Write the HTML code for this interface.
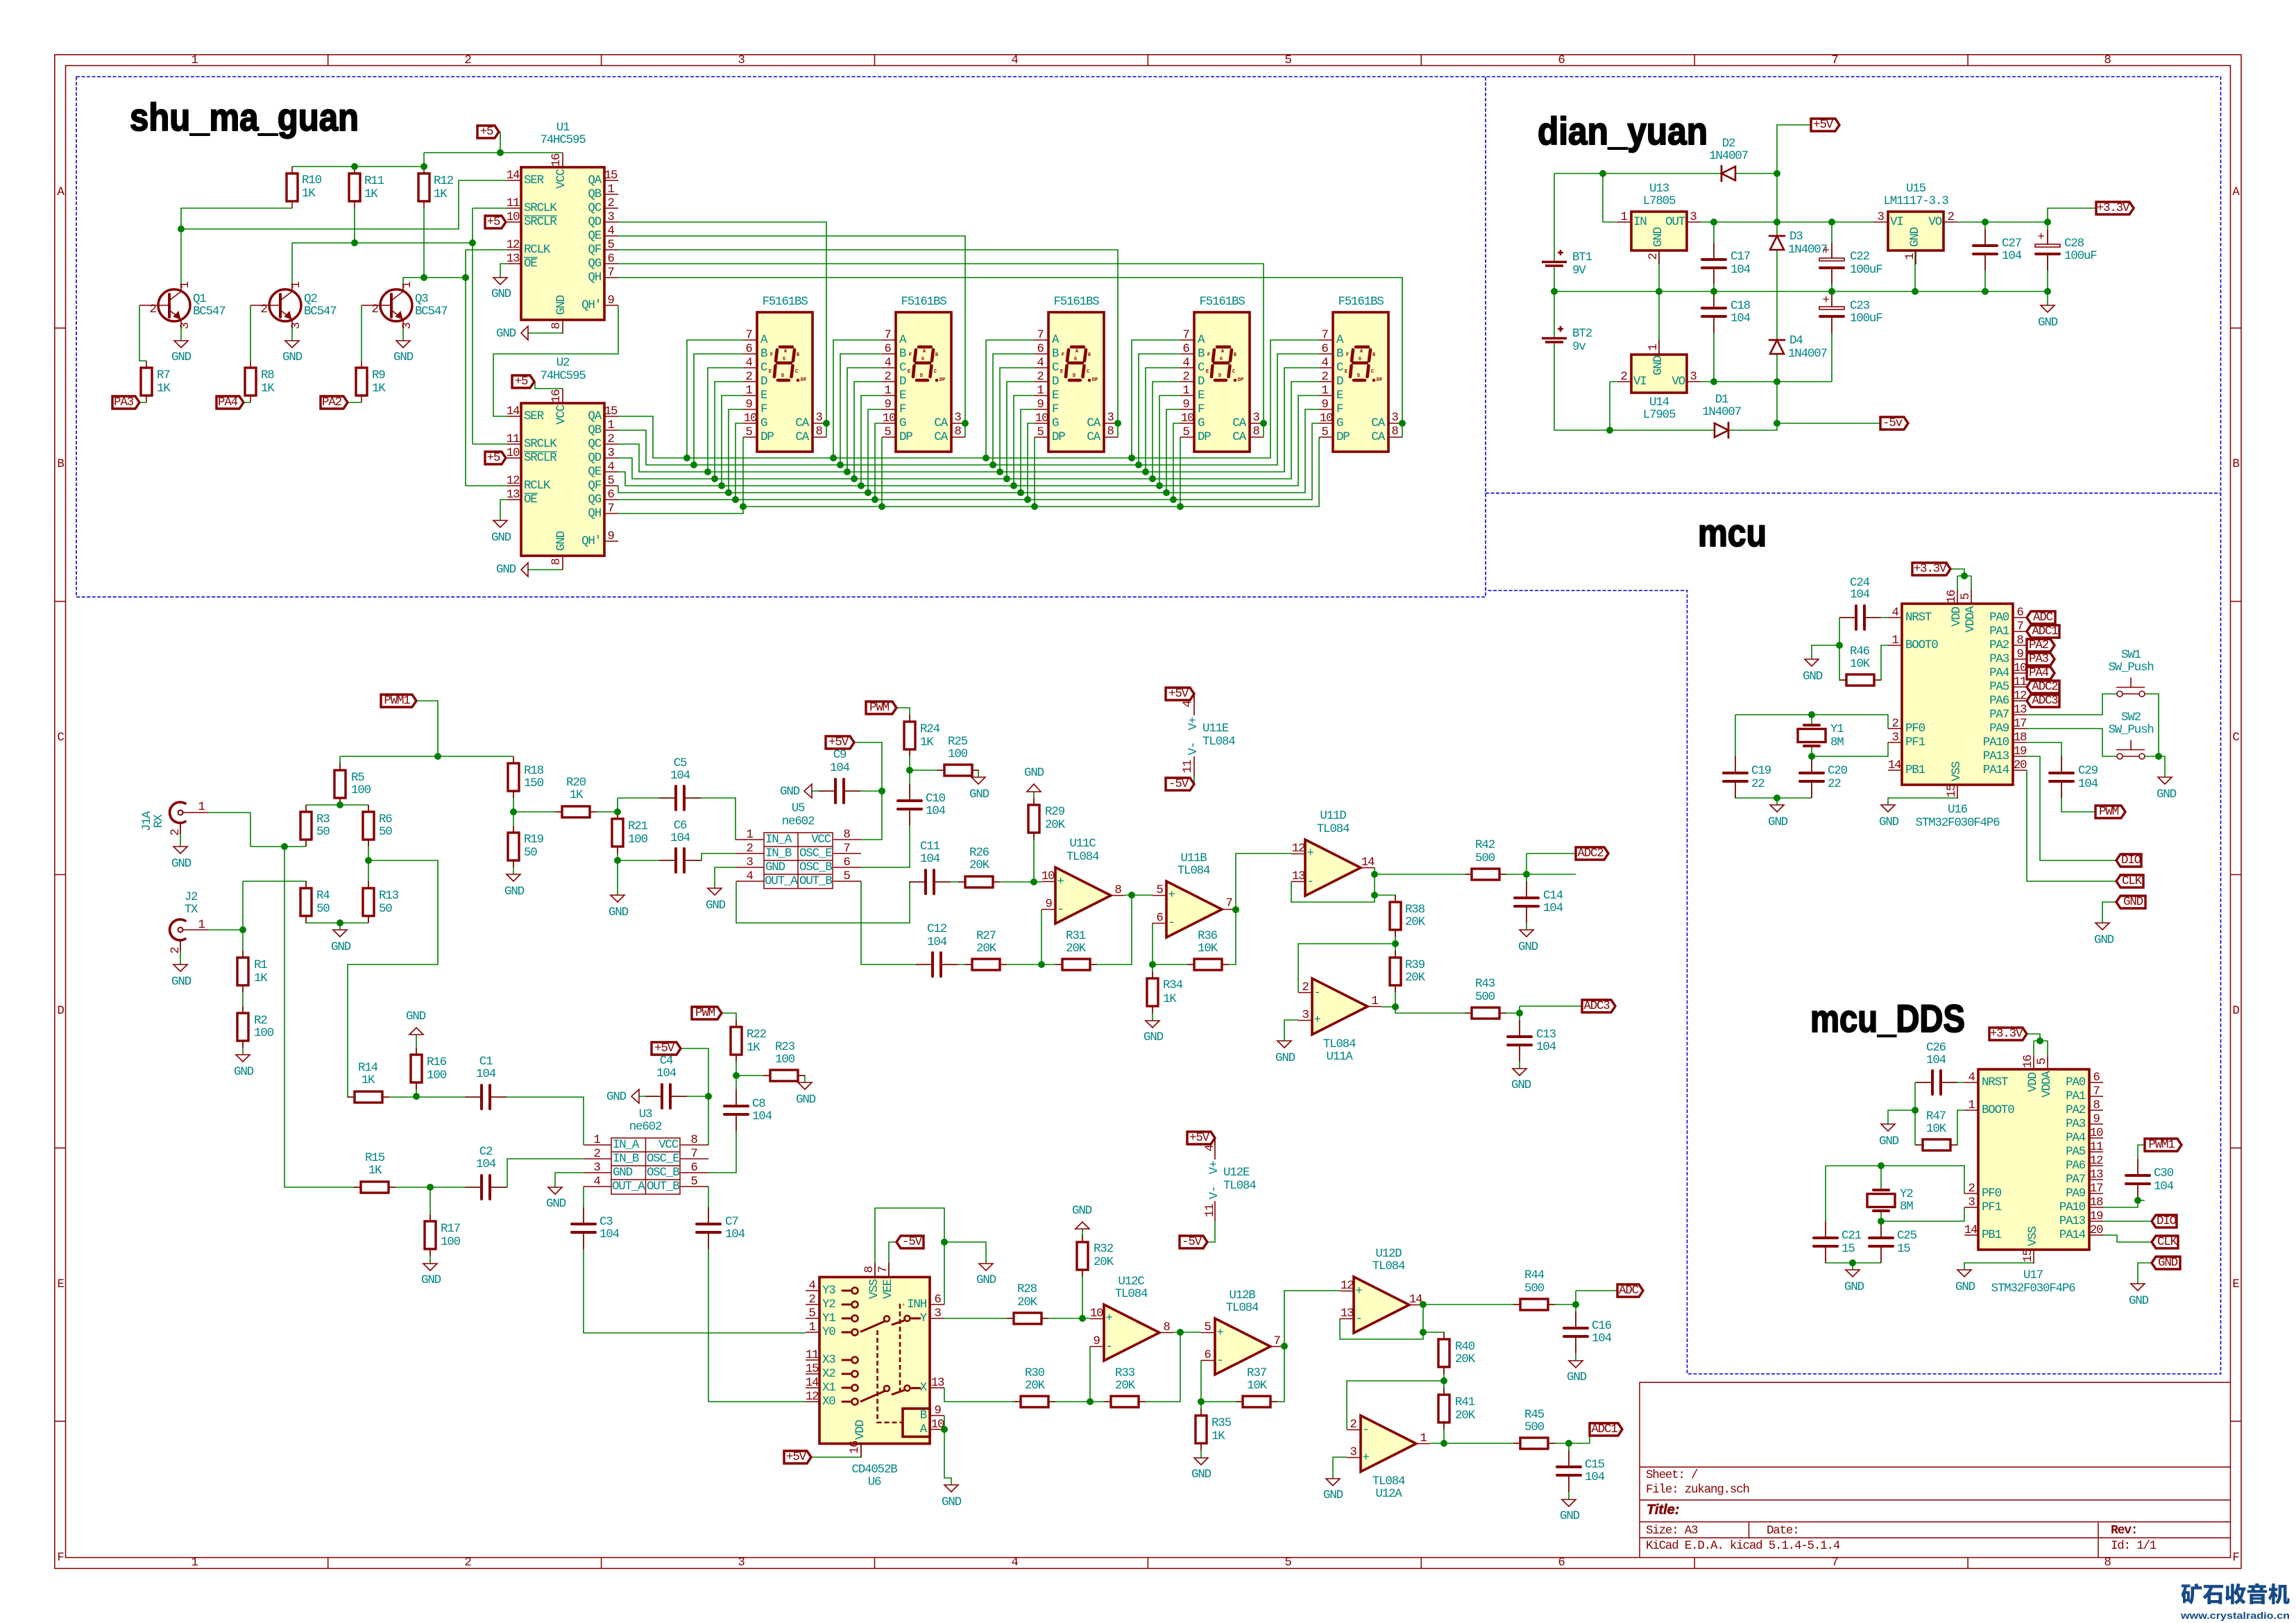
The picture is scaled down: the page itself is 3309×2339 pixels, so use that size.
<!DOCTYPE html>
<html><head><meta charset="utf-8"><title>zukang.sch</title>
<style>
html,body{margin:0;padding:0;background:#fff}
svg{display:block}
svg text{font:17.5px "Liberation Mono",monospace;letter-spacing:-1.2px;dominant-baseline:central}
.t{fill:#008484;text-anchor:middle}
.ts{fill:#008484;text-anchor:start}
.te{fill:#008484;text-anchor:end}
.n{fill:#840000;text-anchor:middle}
.ns{fill:#840000;text-anchor:start}
.w{fill:none;stroke:#008000;stroke-width:1.6}
.p{fill:none;stroke:#840000;stroke-width:1.6}
.f{fill:none;stroke:#840000;stroke-width:1.5}
.d{fill:none;stroke:#0000d8;stroke-width:1.6;stroke-dasharray:5 2.5}
.c{fill:#ffffc2;stroke:#840000;stroke-width:3.6}
.r{fill:#fff;stroke:#840000;stroke-width:3.4}
.k{fill:none;stroke:#840000;stroke-width:4;stroke-linecap:round}
.l{fill:#fff;stroke:#840000;stroke-width:3.4}
.j{fill:none;stroke:#008000;stroke-width:10;stroke-linecap:round}
.ov{fill:none;stroke:#008484;stroke-width:1.3}
svg text.h{font:bold 56px "Liberation Sans",sans-serif;letter-spacing:0;fill:#000;stroke:#000;stroke-width:2;stroke-linejoin:round;text-anchor:start;dominant-baseline:alphabetic}
svg text.b{font:bold italic 20px "Liberation Sans",sans-serif;letter-spacing:0;fill:#840000;stroke:#840000;stroke-width:.6;text-anchor:start}
svg text.rv{font:bold 18px "Liberation Mono",monospace;fill:#840000;text-anchor:start}
svg text.x{font-size:7px;letter-spacing:0;font-weight:bold;fill:#840000}
svg text.cj{font:900 31px "Noto Sans CJK SC",sans-serif;letter-spacing:0;fill:#164a86;text-anchor:start;dominant-baseline:alphabetic}
svg text.ur{font:bold 14px "Liberation Sans",sans-serif;letter-spacing:0;fill:#164a86;text-anchor:start;dominant-baseline:alphabetic}
</style></head><body>
<svg xmlns="http://www.w3.org/2000/svg" width="3309" height="2339" viewBox="0 0 3309 2339">
<defs>
<g id="rv"><path class="p" d="M0 -30V-20M0 20V30"/><rect class="r" x="-8" y="-20" width="16" height="40"/></g>
<g id="rh"><path class="p" d="M-30 0H-20M20 0H30"/><rect class="r" x="-20" y="-8" width="40" height="16"/></g>
<g id="cv"><rect x="-19" y="-5" width="38" height="10" fill="#fff"/><path class="p" d="M0 -30V-6M0 6V30"/><path class="k" d="M-17 -6H17M-17 6H17"/></g>
<g id="ch"><rect x="-5" y="-19" width="10" height="38" fill="#fff"/><path class="p" d="M-30 0H-6M6 0H30"/><path class="k" d="M-6 -17V17M6 -17V17"/></g>
<g id="cp"><rect x="-19" y="-5" width="38" height="10" fill="#fff"/><path class="p" d="M0 -30V-6M0 6V30"/><rect x="-18" y="-8" width="36" height="4" fill="#fff" stroke="#840000" stroke-width="1.6"/><path class="k" d="M-17 6H17"/></g>
<g id="xt"><rect x="-14" y="-15" width="28" height="30" fill="#fff"/><rect class="r" x="-20" y="-9.5" width="40" height="19"/><path class="k" d="M-11 -15H11M-11 15H11"/></g>
<g id="bt"><rect x="-19" y="-3" width="38" height="8" fill="#fff"/><path class="k" style="stroke-width:3.4;stroke-linecap:butt" d="M-18 -2.5H18M-13 3H13"/><path class="p" style="stroke-width:2.6" d="M5 -16H13M9 -20V-12"/></g>
<g id="dv"><path class="r" style="stroke-width:2.6" d="M-10 10H10L0 -10Z"/><path class="k" style="stroke-width:2.8" d="M-11 -10H11"/></g>
<g id="qb"><circle cx="0" cy="0" r="23" fill="#fff" stroke="#840000" stroke-width="3.4"/><path class="p" d="M-50 0H-7M-7 -7L10 -20V-30M-7 7L10 20V31"/><path class="k" d="M-7 -16V17"/><path d="M8 19L0 16L6 10Z" fill="#840000" stroke="#840000" stroke-width="2"/></g>
<g id="ic"><path class="p" d="M-20 19H0M-20 59H0M-20 79H0M-20 119H0M-20 139H0M120 19H140M120 39H140M120 59H140M120 79H140M120 99H140M120 119H140M120 139H140M120 159H140M120 199H140M60 -21V0M60 220V240"/><rect class="c" x="0" y="0" width="120" height="220"/><path class="ov" d="M4 70H52M4 130H24"/></g>
<g id="dsp"><path class="p" d="M-20 40H0M-20 60H0M-20 80H0M-20 100H0M-20 120H0M-20 140H0M-20 160H0M-20 180H0M80 160H100M80 180H100"/><rect class="c" y="0" width="80" height="201"/><path class="k" style="stroke-width:4.6" d="M33 50H51M29 73H49M30 98H46M29 54L27 70M54 54L52 70M26.500 77L25 93M51.500 77L49.500 93"/><circle cx="59" cy="98" r="2.300" fill="#840000"/></g>
<g id="op"><path class="p" d="M-20 20.500H0M-20 60.500H0M78 40.500H100"/><path class="c" d="M0 0V81L80 40.500Z"/></g>
<g id="cx"><path class="k" style="stroke-width:3.6" d="M7 -13A15 15 0 1 0 7 13"/><circle r="3.500" fill="#fff" stroke="#840000" stroke-width="2"/><path class="p" d="M3.500 0H40M0 15V31"/></g>
</defs>

<!-- sheet frame -->
<rect x="78.800" y="78.800" width="3151.200" height="2181.600" class="f" fill="none"/>
<rect x="94.500" y="94.500" width="3120" height="2150.100" class="f" fill="none"/>
<path class="f" d="M472.700 78.800V94.500M866.600 78.800V94.500M1260.500 78.800V94.500M1654.400 78.800V94.500M2048.300 78.800V94.500M2442.200 78.800V94.500M2836.100 78.800V94.500M472.700 2244.600V2260.400M866.600 2244.600V2260.400M1260.500 2244.600V2260.400M1654.400 2244.600V2260.400M2048.300 2244.600V2260.400M2442.200 2244.600V2260.400M2836.100 2244.600V2260.400M78.800 472.700H94.500M78.800 866.600H94.500M78.800 1260.500H94.500M78.800 1654.400H94.500M78.800 2048.300H94.500M3214.500 472.700H3230M3214.500 866.600H3230M3214.500 1260.500H3230M3214.500 1654.400H3230M3214.500 2048.300H3230"/>
<g class="n">
<text x="280" y="87">1</text><text x="674" y="87">2</text><text x="1068" y="87">3</text><text x="1462" y="87">4</text><text x="1856" y="87">5</text><text x="2250" y="87">6</text><text x="2644" y="87">7</text><text x="3037" y="87">8</text>
<text x="280" y="2252">1</text><text x="674" y="2252">2</text><text x="1068" y="2252">3</text><text x="1462" y="2252">4</text><text x="1856" y="2252">5</text><text x="2250" y="2252">6</text><text x="2644" y="2252">7</text><text x="3037" y="2252">8</text>
<text x="87" y="277">A</text><text x="87" y="669">B</text><text x="87" y="1063">C</text><text x="87" y="1457">D</text><text x="87" y="1851">E</text><text x="87" y="2245">F</text>
<text x="3222" y="277">A</text><text x="3222" y="669">B</text><text x="3222" y="1063">C</text><text x="3222" y="1457">D</text><text x="3222" y="1851">E</text><text x="3222" y="2245">F</text>
</g>
<!-- title block -->
<path class="f" d="M2363 2244.600V1992.300H3214.500M2363 2114.300H3214.500M2363 2161.700H3214.500M2363 2193.300H3214.500M2363 2216.300H3214.500M2520.500 2193.300V2216.300M3024 2193.300V2244.600"/>
<g class="ns">
<text x="2372" y="2126">Sheet: /</text><text x="2372" y="2147">File: zukang.sch</text>
<text x="2372" y="2206">Size: A3</text><text x="2546" y="2206">Date:</text>
<text x="2372" y="2228">KiCad E.D.A.  kicad 5.1.4-5.1.4</text><text x="3042" y="2228">Id: 1/1</text>
</g>
<text class="b" x="2373" y="2176">Title:</text>
<text class="rv" x="3042" y="2206">Rev:</text>
<text class="cj" x="3143" y="2309" textLength="157" lengthAdjust="spacingAndGlyphs">矿石收音机</text>
<text class="ur" x="3143" y="2333" textLength="157" lengthAdjust="spacingAndGlyphs">www.crystalradio.cn</text>

<!-- dashed boxes -->
<path class="d" d="M110 110.500H3200.500V1980H2431.500V851H2141M110 110.500V860.300H2141V110.500M2141 710.700H3200.500"/>

<!-- headings -->
<text class="h" x="187" y="188" textLength="330" lengthAdjust="spacingAndGlyphs">shu_ma_guan</text>
<text class="h" x="2216" y="208" textLength="245" lengthAdjust="spacingAndGlyphs">dian_yuan</text>
<text class="h" x="2447" y="787" textLength="99" lengthAdjust="spacingAndGlyphs">mcu</text>
<text class="h" x="2609" y="1487" textLength="223" lengthAdjust="spacingAndGlyphs">mcu_DDS</text>

<!-- wires -->
<path class="w" d="M721 190V220M611 220H811M611 220V240M421 240H611M421 300H261V410M261 330H661V260H731M511 300V350M421 350H681M421 350V410M681 300V640M681 300H731M681 640H731M611 300V400M581 410V400H671M671 360V700M671 360H731M671 700H731M731 380H721V400M761 480H811M891 440V510H711V600H731M771 550V560H811M731 720H721V750M761 821H811
M261 471V491M421 471V491M581 471V491M201 440V520H211M361 440V520M521 440V520M211 580H201M361 580H351M521 580H501
M891 320H1191V630M891 340H1391V630M891 360H1611V630M891 380H1821V630M891 400H2021V630
M891 600H941V660H1831V490H1901M891 620H931V670H1841V510H1901M891 640H921V680H1851V530H1901M891 660H911V690H1861V550H1901M891 680H901V700H1871V570H1901M891 700V710H1881V590H1901M891 720H1891V610H1901M891 740H1071V730H1901V630
M990 660V490H1071M1000 670V510H1071M1020 680V530H1071M1030 690V550H1071M1040 700V570H1071M1050 710V590H1071M1060 720V610H1071M1071 730V630
M1201 660V490H1271M1211 670V510H1271M1221 680V530H1271M1231 690V550H1271M1241 700V570H1271M1251 710V590H1271M1261 720V610H1271M1271 730V630
M1421 660V490H1491M1431 670V510H1491M1441 680V530H1491M1451 690V550H1491M1461 700V570H1491M1471 710V590H1491M1481 720V610H1491M1491 730V630
M1631 660V490H1701M1641 670V510H1701M1651 680V530H1701M1661 690V550H1701M1671 700V570H1701M1681 710V590H1701M1691 720V610H1701M1701 730V630
M2610 180H2561V610M2240 250H2561M2310 250V320H2331M2451 320H2700M2470 320V550M2640 320V550M2451 550H2640M2821 320H2951V300H3021M2861 320V420M2951 320V440M2240 250V620H2561V610M2240 420H2951M2391 361V510M2760 361V420M2320 550H2331M2320 550V620M2561 610H2710
M2811 820H2831V830M2821 830H2841M2821 830V850M2841 830V850M2821 1150H2721V1160M2651 890H2721M2651 890V980H2711V930H2721M2651 930H2611V950M2501 1030H2721V1050M2611 1030V1150M2611 1090H2721V1070M2501 1030V1150H2611M2561 1150V1160M2921 1030H3030V1000H3050M2921 1050H3030V1090H3050M3091 1000H3111V1090M3091 1090H3120V1120M2921 1070H2971V1170H3020M2921 1090H2940V1240H3050M2921 1110V1270H3050M3050 1300H3030V1330
M2921 1490H2940V1500M2931 1500H2951M2931 1500V1521M2951 1500V1521M2931 1820H2831V1830M2760 1560H2831M2760 1560V1650H2821V1600H2831M2760 1600H2721V1620M2631 1680H2831V1720M2711 1680V1820M2711 1760H2831V1740M2631 1680V1820H2711M2670 1820V1830M3031 1740H3081V1650H3091M3081 1730H3091M3031 1760H3101M3031 1780H3051V1790H3101M3101 1820H3081V1850
M600 1010H631V1090M490 1090H740M490 1090V1160M441 1160H531M441 1160V1220M361 1220H441M361 1171V1220M300 1171H361M410 1220V1711H731V1670H841M531 1160V1330M531 1240H631V1390H501V1581H841V1650M300 1340H350M350 1270V1520M350 1270H441V1330H531M490 1330V1340M260 1186V1220M260 1356V1390
M740 1090V1260M740 1170H890M890 1150V1290M890 1150H1060V1210H1061M890 1240H1011V1230H1061M1061 1250H1030V1280M1061 1270V1330H1311V1271H1501M1241 1250H1311V1020H1292M1311 1110H1410V1120M1241 1210H1271V1070H1231M1170 1140H1271M1241 1270V1390H1631V1290M1621 1290H1661M1490 1141V1271M1501 1311V1390M1661 1330V1471M1661 1390H1781V1230H1861M1781 1311V1300M1981 1250V1300H1861V1271M1981 1260H2271M2200 1230V1340M2200 1230H2271M1981 1290H2011V1460H2191M2011 1360H1871V1430M1991 1451H2011M2190 1450V1540M2190 1450H2280M1871 1470H1851V1500M1721 1120V1130M1721 1000V1010
M1021 1650V1511H981M921 1580H1021M1021 1690H1061V1460H1040M1061 1550H1160V1560M841 1690H800V1711M841 1710V1921H1161M1021 1710V2020H1161M600 1491V1580M620 1711V1821
M1261 1840V1741H1361V1880M1361 1790H1421V1821M1281 1840V1790H1292M1169 2100H1241V2081M1361 2040V2130H1371V2140M1361 1900H1571M1560 1771V1900M1361 2000V2020H1701V1920M1691 1920H1731M1571 1940V2020M1731 1960V2101M1731 2020H1851V1860H1931M2051 1880V1930H1931V1900M2051 1880H2271M2271 1860V1961M2271 1860H2331M2051 1920H2081V2080M2081 1990H1941V2060M2061 2080H2291V2070M2261 2080V2161M1941 2100H1921V2131M1751 1760V1790H1740M1751 1640V1650"/>

<!-- pins misc -->
<path class="p" d="M2331 320H2351M2431 320H2451M2391 361V381M2391 490V511M2331 550H2351M2431 550H2451M2700 320H2721M2801 320H2821M2761 361V381
M2721 890H2741M2721 930H2741M2721 1050H2741M2721 1070H2741M2721 1110H2741M2901 890H2921M2901 910H2921M2901 930H2921M2901 950H2921M2901 970H2921M2901 990H2921M2901 1010H2921M2901 1030H2921M2901 1050H2921M2901 1070H2921M2901 1090H2921M2901 1110H2921M2821 850V870M2841 850V870M2821 1131V1151
M2831 1560H2851M2831 1600H2851M2831 1720H2851M2831 1740H2851M2831 1780H2851M3011 1560H3031M3011 1580H3031M3011 1600H3031M3011 1620H3031M3011 1640H3031M3011 1660H3031M3011 1680H3031M3011 1700H3031M3011 1720H3031M3011 1740H3031M3011 1760H3031M3011 1780H3031M2931 1521V1541M2951 1521V1541M2931 1801V1821
M841 1650H881M841 1670H881M841 1690H881M841 1710H881M981 1650H1021M981 1670H1021M981 1690H1021M981 1710H1021
M1061 1210H1101M1061 1230H1101M1061 1250H1101M1061 1270H1101M1201 1210H1241M1201 1230H1241M1201 1250H1241M1201 1270H1241
M1161 1860H1181M1161 1880H1181M1161 1900H1181M1161 1920H1181M1161 1960H1181M1161 1980H1181M1161 2000H1181M1161 2020H1181M1340 1880H1361M1340 1900H1361M1340 2000H1361M1340 2040H1361M1340 2060H1361M1261 1820V1840M1281 1820V1840M1241 2080V2100
M1721 1000V1031M1721 1090V1120M1751 1640V1671M1751 1731V1760
M3050 1000H3091M3050 1090H3091"/>

<!-- U1 U2 -->
<use href="#ic" x="751" y="241"/><use href="#ic" x="751" y="581"/>
<!-- transistors -->
<use href="#qb" x="251" y="440"/><use href="#qb" x="411" y="440"/><use href="#qb" x="571" y="440"/>
<!-- displays -->
<use href="#dsp" x="1091" y="450"/><use href="#dsp" x="1291" y="450"/><use href="#dsp" x="1511" y="450"/><use href="#dsp" x="1721" y="450"/><use href="#dsp" x="1921" y="450"/>
<!-- resistors -->
<use href="#rv" x="421" y="270"/><use href="#rv" x="511" y="270"/><use href="#rv" x="611" y="270"/><use href="#rv" x="211" y="550"/><use href="#rv" x="361" y="550"/><use href="#rv" x="521" y="550"/>
<use href="#rv" x="490" y="1130"/><use href="#rv" x="441" y="1190"/><use href="#rv" x="531" y="1190"/><use href="#rv" x="441" y="1300"/><use href="#rv" x="531" y="1300"/><use href="#rv" x="350" y="1400"/><use href="#rv" x="350" y="1480"/><use href="#rv" x="740" y="1120"/><use href="#rv" x="740" y="1220"/><use href="#rv" x="890" y="1200"/><use href="#rv" x="1311" y="1060"/><use href="#rv" x="1490" y="1180"/><use href="#rv" x="1661" y="1430"/><use href="#rv" x="2011" y="1320"/><use href="#rv" x="2011" y="1400"/><use href="#rv" x="600" y="1540"/><use href="#rv" x="620" y="1780"/><use href="#rv" x="1061" y="1500"/><use href="#rv" x="1560" y="1810"/><use href="#rv" x="1731" y="2060"/><use href="#rv" x="2081" y="1950"/><use href="#rv" x="2081" y="2030"/>
<use href="#rh" x="2681" y="980"/><use href="#rh" x="2791" y="1650"/><use href="#rh" x="830" y="1170"/><use href="#rh" x="1381" y="1110"/><use href="#rh" x="1411" y="1271"/><use href="#rh" x="1421" y="1390"/><use href="#rh" x="1551" y="1390"/><use href="#rh" x="1741" y="1390"/><use href="#rh" x="2141" y="1260"/><use href="#rh" x="2141" y="1460"/><use href="#rh" x="531" y="1581"/><use href="#rh" x="540" y="1711"/><use href="#rh" x="1130" y="1550"/><use href="#rh" x="1481" y="1900"/><use href="#rh" x="1491" y="2020"/><use href="#rh" x="1621" y="2020"/><use href="#rh" x="1811" y="2020"/><use href="#rh" x="2211" y="1880"/><use href="#rh" x="2211" y="2080"/>
<!-- caps -->
<use href="#cv" x="2470" y="380"/><use href="#cv" x="2470" y="450"/><use href="#cv" x="2861" y="360"/><use href="#cp" x="2640" y="380"/><use href="#cp" x="2640" y="450"/><use href="#cp" x="2951" y="360"/>
<use href="#cv" x="2501" y="1120"/><use href="#cv" x="2611" y="1120"/><use href="#cv" x="2971" y="1120"/><use href="#ch" x="2681" y="890"/><use href="#ch" x="2791" y="1560"/><use href="#cv" x="2631" y="1790"/><use href="#cv" x="2711" y="1790"/><use href="#cv" x="3081" y="1700"/>
<use href="#ch" x="980" y="1150"/><use href="#ch" x="980" y="1240"/><use href="#ch" x="1210" y="1140"/><use href="#cv" x="1311" y="1160"/><use href="#ch" x="1340" y="1271"/><use href="#ch" x="1350" y="1390"/><use href="#cv" x="2200" y="1300"/><use href="#cv" x="2190" y="1500"/><use href="#ch" x="700" y="1581"/><use href="#ch" x="700" y="1711"/><use href="#ch" x="960" y="1580"/><use href="#cv" x="1061" y="1600"/><use href="#cv" x="841" y="1770"/><use href="#cv" x="1021" y="1770"/><use href="#cv" x="2271" y="1920"/><use href="#cv" x="2261" y="2120"/>
<use href="#xt" x="2611" y="1060"/><use href="#xt" x="2711" y="1730"/>
<use href="#bt" x="2240" y="380"/><use href="#bt" x="2240" y="490"/>
<use href="#dv" x="2561" y="350"/><use href="#dv" x="2561" y="500"/><use href="#dv" transform="translate(2491 250) rotate(-90)"/><use href="#dv" transform="translate(2481 620) rotate(90)"/>
<!-- regulators & MCU bodies -->
<rect class="c" x="2351" y="305" width="80" height="56"/><rect class="c" x="2351" y="511" width="80" height="55"/><rect class="c" x="2721" y="305" width="80" height="56"/>
<rect class="c" x="2741" y="870" width="160" height="261"/><rect class="c" x="2851" y="1541" width="160" height="260"/>
<!-- ne602 -->
<path class="f" d="M881 1640H980V1721H881ZM881 1660H980M881 1680H980M881 1700H980M930.500 1640V1721M1101 1200H1200V1280.500H1101ZM1101 1220H1200M1101 1240H1200M1101 1260H1200M1150 1200V1280.500"/>
<!-- op amps -->
<use href="#op" x="1521" y="1250"/><use href="#op" x="1681" y="1270"/><use href="#op" x="1881" y="1210"/><use href="#op" x="1891" y="1410"/><use href="#op" x="1591" y="1880"/><use href="#op" x="1751" y="1900"/><use href="#op" x="1951" y="1840"/><use href="#op" x="1961" y="2040"/>
<!-- coax -->
<use href="#cx" x="260" y="1171"/><use href="#cx" x="260" y="1340"/>
<!-- switches -->
<g fill="#fff" stroke="#840000" stroke-width="1.6"><circle cx="3055" cy="1000" r="4"/><circle cx="3087" cy="1000" r="4"/><circle cx="3055" cy="1090" r="4"/><circle cx="3087" cy="1090" r="4"/></g>
<path class="p" d="M3050 990.500H3091M3071 976.500V990.500M3050 1080.500H3091M3071 1066.500V1080.500"/>
<!-- U6 -->
<rect class="c" x="1181" y="1840.500" width="159" height="240"/>
<rect class="c" x="1301" y="2030" width="39" height="40.500"/>
<path class="k" style="stroke-width:3" d="M1214 1860H1227M1214 1880H1227M1214 1900H1227M1214 1920H1227M1214 1960H1227M1214 1980H1227M1214 2000H1227M1214 2020H1227M1241 1919L1275.500 1904M1286 1909L1303 1903M1314 1900H1326M1241 2019.500L1275.500 2004.500M1286 2009.500L1303 2003.500M1314 2000.500H1326"/>
<g fill="#ffffc2" stroke="#840000" stroke-width="2.6"><circle cx="1232" cy="1860" r="4.500"/><circle cx="1232" cy="1880" r="4.500"/><circle cx="1232" cy="1900" r="4.500"/><circle cx="1232" cy="1920" r="4.500"/><circle cx="1232" cy="1960" r="4.500"/><circle cx="1232" cy="1980" r="4.500"/><circle cx="1232" cy="2000" r="4.500"/><circle cx="1232" cy="2020" r="4.500"/><circle cx="1278" cy="1900.500" r="4"/><circle cx="1307.500" cy="1900" r="4"/><circle cx="1278" cy="2001" r="4"/><circle cx="1307.500" cy="2000.500" r="4"/></g>
<path fill="none" stroke="#840000" stroke-width="2.6" stroke-dasharray="7 4" d="M1264.500 1917V2050H1300M1297 2007V1880H1303"/>

<!-- GND triangles -->
<path class="p" d="M251 491h20l-10 10zM411 491h20l-10 10zM571 491h20l-10 10zM711 400h20l-10 10zM711 750h20l-10 10zM2941 440h20l-10 10zM2711 1160h20l-10 10zM2601 950h20l-10 10zM2551 1160h20l-10 10zM3110 1120h20l-10 10zM3020 1330h20l-10 10zM2711 1620h20l-10 10zM2821 1830h20l-10 10zM2660 1830h20l-10 10zM3071 1850h20l-10 10zM250 1220h20l-10 10zM250 1390h20l-10 10zM480 1340h20l-10 10zM340 1520h20l-10 10zM730 1260h20l-10 10zM880 1290h20l-10 10zM1020 1280h20l-10 10zM1400 1120h20l-10 10zM1651 1471h20l-10 10zM2190 1340h20l-10 10zM1841 1500h20l-10 10zM2180 1540h20l-10 10zM1150 1560h20l-10 10zM790 1711h20l-10 10zM610 1821h20l-10 10zM1411 1821h20l-10 10zM1361 2140h20l-10 10zM1721 2101h20l-10 10zM2261 1961h20l-10 10zM1911 2131h20l-10 10zM2251 2161h20l-10 10z
M1480 1141h20l-10 -11zM590 1491h20l-10 -10zM1550 1771h20l-10 -10z
M761 470v20l-10 -10zM761 811v20l-10 -10zM1170 1130v20l-11 -10zM921 1570v20l-11 -10z"/>

<!-- labels -->
<path class="l" d="M688 181H713L719 190L713 199H688ZM699 311H723L729 320L723 329H699ZM738 541H764L770 550L764 559H738ZM699 651H723L729 660L723 669H699ZM162 571H195L201 580L195 589H162ZM312 571H345L351 580L345 589H312ZM462 571H495L501 580L495 589H462Z
M2610 171H2645L2651 180L2645 189H2610ZM3021 291H3069L3075 300L3069 309H3021ZM2710 601H2744L2750 610L2744 619H2710ZM2756 811H2805L2811 820L2805 829H2756ZM2921 921H2955L2961 930L2955 939H2921ZM2921 941H2955L2961 950L2955 959H2921ZM2921 961H2955L2961 970L2955 979H2921ZM3020 1161H3057L3063 1170L3057 1179H3020ZM2867 1481H2915L2921 1490L2915 1499H2867ZM3091 1641H3138L3144 1650L3138 1659H3091Z
M549 1001H594L600 1010L594 1019H549ZM939 1502H975L981 1511L975 1520H939ZM997 1451H1034L1040 1460L1034 1469H997ZM1190 1061H1225L1231 1070L1225 1079H1190ZM1248 1011H1286L1292 1020L1286 1029H1248ZM1680 991H1715L1721 1000L1715 1009H1680ZM1680 1121H1715L1721 1130L1715 1139H1680ZM2271 1221H2312L2318 1230L2312 1239H2271ZM2280 1441H2322L2328 1450L2322 1459H2280ZM2331 1851H2362L2368 1860L2362 1869H2331ZM2291 2051H2332L2338 2060L2332 2069H2291ZM1130 2091H1163L1169 2100L1163 2109H1130ZM1711 1631H1745L1751 1640L1745 1649H1711ZM1700 1781H1734L1740 1790L1734 1799H1700Z
M2962 881H2927L2921 890L2927 899H2962ZM2968 901H2927L2921 910L2927 919H2968ZM2968 981H2927L2921 990L2927 999H2968ZM2968 1001H2927L2921 1010L2927 1019H2968ZM3086 1231H3056L3050 1240L3056 1249H3086ZM3089 1261H3056L3050 1270L3056 1279H3089ZM3092 1291H3056L3050 1300L3056 1309H3092ZM3137 1751H3107L3101 1760L3107 1769H3137ZM3139 1781H3107L3101 1790L3107 1799H3139ZM3142 1811H3107L3101 1820L3107 1829H3142ZM1331 1781H1298L1292 1790L1298 1799H1331Z"/>
<g class="n">
<text x="701" y="190">+5</text><text x="711" y="320">+5</text><text x="751" y="550">+5</text><text x="711" y="660">+5</text><text x="178" y="580">PA3</text><text x="328" y="580">PA4</text><text x="478" y="580">PA2</text>
<text x="2627" y="180">+5V</text><text x="3045" y="300">+3.3V</text><text x="2727" y="610">-5v</text><text x="2781" y="820">+3.3V</text><text x="2938" y="930">PA2</text><text x="2938" y="950">PA3</text><text x="2938" y="970">PA4</text><text x="3039" y="1170">PWM</text><text x="2891" y="1490">+3.3V</text><text x="3115" y="1650">PWM1</text>
<text x="572" y="1010">PWM1</text><text x="957" y="1511">+5V</text><text x="1016" y="1460">PWM</text><text x="1208" y="1070">+5V</text><text x="1267" y="1020">PWM</text><text x="1698" y="1000">+5V</text><text x="1698" y="1130">-5V</text><text x="2292" y="1230">ADC2</text><text x="2301" y="1450">ADC3</text><text x="2347" y="1860">ADC</text><text x="2312" y="2060">ADC1</text><text x="1147" y="2100">+5V</text><text x="1728" y="1640">+5V</text><text x="1717" y="1790">-5V</text>
<text x="2944" y="890">ADC</text><text x="2947" y="910">ADC1</text><text x="2947" y="990">ADC2</text><text x="2947" y="1010">ADC3</text><text x="3071" y="1240">DIO</text><text x="3072" y="1270">CLK</text><text x="3074" y="1300">GND</text><text x="3122" y="1760">DIO</text><text x="3123" y="1790">CLK</text><text x="3124" y="1820">GND</text><text x="1314" y="1790">-5V</text>
</g>

<!-- junctions -->
<path class="j" d="M721 220h0M611 240h0M511 240h0M261 330h0M511 350h0M681 350h0M671 400h0M611 400h0
M990 660h0M1000 670h0M1020 680h0M1030 690h0M1040 700h0M1050 710h0M1060 720h0M1071 730h0M1201 660h0M1211 670h0M1221 680h0M1231 690h0M1241 700h0M1251 710h0M1261 720h0M1271 730h0M1421 660h0M1431 670h0M1441 680h0M1451 690h0M1461 700h0M1471 710h0M1481 720h0M1491 730h0M1631 660h0M1641 670h0M1651 680h0M1661 690h0M1671 700h0M1681 710h0M1691 720h0M1701 730h0M1191 610h0M1391 610h0M1611 610h0M1821 610h0M2021 610h0
M2561 250h0M2310 250h0M2470 320h0M2561 320h0M2640 320h0M2861 320h0M2951 320h0M2240 420h0M2391 420h0M2470 420h0M2640 420h0M2760 420h0M2861 420h0M2951 420h0M2470 550h0M2561 550h0M2320 620h0M2561 610h0
M2831 830h0M2651 930h0M2611 1030h0M2611 1090h0M2561 1150h0M3111 1090h0M2940 1500h0M2760 1600h0M2711 1680h0M2711 1760h0M2670 1820h0M3081 1730h0
M631 1090h0M490 1160h0M410 1220h0M531 1240h0M350 1340h0M490 1330h0M740 1170h0M890 1170h0M890 1240h0M1311 1110h0M1271 1140h0M1490 1271h0M1631 1290h0M1501 1390h0M1661 1390h0M1781 1311h0M1981 1260h0M1981 1290h0M2200 1260h0M2011 1360h0M2011 1451h0M2190 1460h0M600 1580h0M620 1711h0M1021 1580h0M1061 1550h0M1361 1790h0M1361 2060h0M1560 1900h0M1701 1920h0M1571 2020h0M1731 2020h0M1851 1940h0M2051 1880h0M2051 1920h0M2271 1880h0M2081 1990h0M2081 2080h0M2261 2080h0"/>

<!-- text: U1/U2 -->
<g id="u595a">
<g class="ts"><text x="755" y="260">SER</text><text x="755" y="300">SRCLK</text><text x="755" y="320">SRCLR</text><text x="755" y="360">RCLK</text><text x="755" y="380">OE</text></g>
<g class="te"><text x="866" y="260">QA</text><text x="866" y="280">QB</text><text x="866" y="300">QC</text><text x="866" y="320">QD</text><text x="866" y="340">QE</text><text x="866" y="360">QF</text><text x="866" y="380">QG</text><text x="866" y="400">QH</text><text x="866" y="440">QH'</text></g>
<g class="t"><text transform="rotate(-90 809 258)" x="809" y="258">VCC</text><text transform="rotate(-90 809 440)" x="809" y="440">GND</text></g>
<g class="n"><text x="739" y="253">14</text><text x="739" y="293">11</text><text x="739" y="313">10</text><text x="739" y="353">12</text><text x="739" y="373">13</text><text x="880" y="253">15</text><text x="880" y="273">1</text><text x="880" y="293">2</text><text x="880" y="313">3</text><text x="880" y="333">4</text><text x="880" y="353">5</text><text x="880" y="373">6</text><text x="880" y="393">7</text><text x="880" y="433">9</text><text transform="rotate(-90 802 231)" x="802" y="231">16</text><text transform="rotate(-90 802 470)" x="802" y="470">8</text></g>
</g>
<g transform="translate(0 340)">
<g class="ts"><text x="755" y="260">SER</text><text x="755" y="300">SRCLK</text><text x="755" y="320">SRCLR</text><text x="755" y="360">RCLK</text><text x="755" y="380">OE</text></g>
<g class="te"><text x="866" y="260">QA</text><text x="866" y="280">QB</text><text x="866" y="300">QC</text><text x="866" y="320">QD</text><text x="866" y="340">QE</text><text x="866" y="360">QF</text><text x="866" y="380">QG</text><text x="866" y="400">QH</text><text x="866" y="440">QH'</text></g>
<g class="t"><text transform="rotate(-90 809 258)" x="809" y="258">VCC</text><text transform="rotate(-90 809 440)" x="809" y="440">GND</text></g>
<g class="n"><text x="739" y="253">14</text><text x="739" y="293">11</text><text x="739" y="313">10</text><text x="739" y="353">12</text><text x="739" y="373">13</text><text x="880" y="253">15</text><text x="880" y="273">1</text><text x="880" y="293">2</text><text x="880" y="313">3</text><text x="880" y="333">4</text><text x="880" y="353">5</text><text x="880" y="373">6</text><text x="880" y="393">7</text><text x="880" y="433">9</text><text transform="rotate(-90 802 231)" x="802" y="231">16</text><text transform="rotate(-90 802 470)" x="802" y="470">8</text></g>
</g>
<g class="t">
<text x="811" y="184">U1</text><text x="811" y="202">74HC595</text><text x="811" y="523">U2</text><text x="811" y="542">74HC595</text>
<text x="722" y="424">GND</text><text x="722" y="775">GND</text><text x="729" y="481">GND</text><text x="729" y="821">GND</text>
<text x="261" y="515">GND</text><text x="421" y="515">GND</text><text x="581" y="515">GND</text>
</g>
<g class="ts">
<text x="278" y="431">Q1</text><text x="278" y="449">BC547</text><text x="438" y="431">Q2</text><text x="438" y="449">BC547</text><text x="598" y="431">Q3</text><text x="598" y="449">BC547</text>
<text x="226" y="541">R7</text><text x="226" y="560">1K</text><text x="376" y="541">R8</text><text x="376" y="560">1K</text><text x="536" y="541">R9</text><text x="536" y="560">1K</text>
<text x="435" y="260">R10</text><text x="435" y="279">1K</text><text x="525" y="261">R11</text><text x="525" y="280">1K</text><text x="625" y="261">R12</text><text x="625" y="280">1K</text>
</g>
<g class="n">
<text transform="rotate(-90 267 411)" x="267" y="411">1</text><text transform="rotate(-90 267 470)" x="267" y="470">3</text><text x="220" y="446">2</text>
<text transform="rotate(-90 427 411)" x="427" y="411">1</text><text transform="rotate(-90 427 470)" x="427" y="470">3</text><text x="380" y="446">2</text>
<text transform="rotate(-90 587 411)" x="587" y="411">1</text><text transform="rotate(-90 587 470)" x="587" y="470">3</text><text x="540" y="446">2</text>
</g>

<!-- text: displays -->
<g transform="translate(1091 0)"><g class="t"><text x="40" y="435">F5161BS</text><text class="x" x="21" y="512">F</text><text class="x" x="41" y="507">A</text><text class="x" x="59" y="512">B</text><text class="x" x="39" y="518">G</text><text class="x" x="19" y="536">E</text><text class="x" x="57" y="536">C</text><text class="x" x="37" y="542">D</text><text class="x" x="67" y="548">DP</text></g><g class="ts"><text x="5" y="490">A</text><text x="5" y="510">B</text><text x="5" y="530">C</text><text x="5" y="550">D</text><text x="5" y="570">E</text><text x="5" y="590">F</text><text x="5" y="610">G</text><text x="5" y="630">DP</text></g><g class="te"><text x="74" y="610">CA</text><text x="74" y="630">CA</text></g><g class="n"><text x="-12" y="483">7</text><text x="-12" y="503">6</text><text x="-12" y="523">4</text><text x="-12" y="543">2</text><text x="-12" y="563">1</text><text x="-12" y="583">9</text><text x="-10" y="603">10</text><text x="-12" y="623">5</text><text x="89" y="602">3</text><text x="89" y="622">8</text></g></g>
<g transform="translate(1291 0)"><g class="t"><text x="40" y="435">F5161BS</text><text class="x" x="21" y="512">F</text><text class="x" x="41" y="507">A</text><text class="x" x="59" y="512">B</text><text class="x" x="39" y="518">G</text><text class="x" x="19" y="536">E</text><text class="x" x="57" y="536">C</text><text class="x" x="37" y="542">D</text><text class="x" x="67" y="548">DP</text></g><g class="ts"><text x="5" y="490">A</text><text x="5" y="510">B</text><text x="5" y="530">C</text><text x="5" y="550">D</text><text x="5" y="570">E</text><text x="5" y="590">F</text><text x="5" y="610">G</text><text x="5" y="630">DP</text></g><g class="te"><text x="74" y="610">CA</text><text x="74" y="630">CA</text></g><g class="n"><text x="-12" y="483">7</text><text x="-12" y="503">6</text><text x="-12" y="523">4</text><text x="-12" y="543">2</text><text x="-12" y="563">1</text><text x="-12" y="583">9</text><text x="-10" y="603">10</text><text x="-12" y="623">5</text><text x="89" y="602">3</text><text x="89" y="622">8</text></g></g>
<g transform="translate(1511 0)"><g class="t"><text x="40" y="435">F5161BS</text><text class="x" x="21" y="512">F</text><text class="x" x="41" y="507">A</text><text class="x" x="59" y="512">B</text><text class="x" x="39" y="518">G</text><text class="x" x="19" y="536">E</text><text class="x" x="57" y="536">C</text><text class="x" x="37" y="542">D</text><text class="x" x="67" y="548">DP</text></g><g class="ts"><text x="5" y="490">A</text><text x="5" y="510">B</text><text x="5" y="530">C</text><text x="5" y="550">D</text><text x="5" y="570">E</text><text x="5" y="590">F</text><text x="5" y="610">G</text><text x="5" y="630">DP</text></g><g class="te"><text x="74" y="610">CA</text><text x="74" y="630">CA</text></g><g class="n"><text x="-12" y="483">7</text><text x="-12" y="503">6</text><text x="-12" y="523">4</text><text x="-12" y="543">2</text><text x="-12" y="563">1</text><text x="-12" y="583">9</text><text x="-10" y="603">10</text><text x="-12" y="623">5</text><text x="89" y="602">3</text><text x="89" y="622">8</text></g></g>
<g transform="translate(1721 0)"><g class="t"><text x="40" y="435">F5161BS</text><text class="x" x="21" y="512">F</text><text class="x" x="41" y="507">A</text><text class="x" x="59" y="512">B</text><text class="x" x="39" y="518">G</text><text class="x" x="19" y="536">E</text><text class="x" x="57" y="536">C</text><text class="x" x="37" y="542">D</text><text class="x" x="67" y="548">DP</text></g><g class="ts"><text x="5" y="490">A</text><text x="5" y="510">B</text><text x="5" y="530">C</text><text x="5" y="550">D</text><text x="5" y="570">E</text><text x="5" y="590">F</text><text x="5" y="610">G</text><text x="5" y="630">DP</text></g><g class="te"><text x="74" y="610">CA</text><text x="74" y="630">CA</text></g><g class="n"><text x="-12" y="483">7</text><text x="-12" y="503">6</text><text x="-12" y="523">4</text><text x="-12" y="543">2</text><text x="-12" y="563">1</text><text x="-12" y="583">9</text><text x="-10" y="603">10</text><text x="-12" y="623">5</text><text x="89" y="602">3</text><text x="89" y="622">8</text></g></g>
<g transform="translate(1921 0)"><g class="t"><text x="40" y="435">F5161BS</text><text class="x" x="21" y="512">F</text><text class="x" x="41" y="507">A</text><text class="x" x="59" y="512">B</text><text class="x" x="39" y="518">G</text><text class="x" x="19" y="536">E</text><text class="x" x="57" y="536">C</text><text class="x" x="37" y="542">D</text><text class="x" x="67" y="548">DP</text></g><g class="ts"><text x="5" y="490">A</text><text x="5" y="510">B</text><text x="5" y="530">C</text><text x="5" y="550">D</text><text x="5" y="570">E</text><text x="5" y="590">F</text><text x="5" y="610">G</text><text x="5" y="630">DP</text></g><g class="te"><text x="74" y="610">CA</text><text x="74" y="630">CA</text></g><g class="n"><text x="-12" y="483">7</text><text x="-12" y="503">6</text><text x="-12" y="523">4</text><text x="-12" y="543">2</text><text x="-12" y="563">1</text><text x="-12" y="583">9</text><text x="-10" y="603">10</text><text x="-12" y="623">5</text><text x="89" y="602">3</text><text x="89" y="622">8</text></g></g>

<!-- text: dian_yuan -->
<g class="t">
<text x="2491" y="207">D2</text><text x="2491" y="225">1N4007</text><text x="2391" y="272">U13</text><text x="2391" y="290">L7805</text><text x="2761" y="272">U15</text><text x="2761" y="290">LM1117-3.3</text><text x="2391" y="580">U14</text><text x="2391" y="598">L7905</text><text x="2481" y="576">D1</text><text x="2481" y="594">1N4007</text><text x="2951" y="465">GND</text>
<text transform="rotate(-90 2390 342)" x="2390" y="342">GND</text><text transform="rotate(-90 2760 342)" x="2760" y="342">GND</text><text transform="rotate(-90 2390 527)" x="2390" y="527">GND</text>
</g>
<g class="ts">
<text x="2354" y="320">IN</text><text x="2724" y="320">VI</text><text x="2354" y="550">VI</text>
<text x="2266" y="371">BT1</text><text x="2266" y="390">9V</text><text x="2266" y="481">BT2</text><text x="2266" y="500">9v</text>
<text x="2494" y="370">C17</text><text x="2494" y="389">104</text><text x="2494" y="441">C18</text><text x="2494" y="459">104</text>
<text x="2579" y="341">D3</text><text x="2577" y="360">1N4007</text><text x="2579" y="491">D4</text><text x="2577" y="510">1N4007</text>
<text x="2666" y="370">C22</text><text x="2666" y="389">100uF</text><text x="2666" y="441">C23</text><text x="2666" y="459">100uF</text>
<text x="2885" y="351">C27</text><text x="2885" y="369">104</text><text x="2975" y="351">C28</text><text x="2975" y="369">100uF</text>
</g>
<g class="te"><text x="2428" y="320">OUT</text><text x="2798" y="320">VO</text><text x="2428" y="550">VO</text></g>
<g class="n">
<text x="2340" y="313">1</text><text x="2440" y="313">3</text><text x="2710" y="313">3</text><text x="2811" y="313">2</text><text x="2340" y="543">2</text><text x="2440" y="543">3</text>
<text transform="rotate(-90 2383 370)" x="2383" y="370">2</text><text transform="rotate(-90 2753 370)" x="2753" y="370">1</text><text transform="rotate(-90 2383 501)" x="2383" y="501">1</text>
<text x="2631" y="362">+</text><text x="2631" y="433">+</text><text x="2941" y="342">+</text>
</g>

<!-- text: mcu -->
<g class="ts"><text x="2746" y="890">NRST</text><text x="2746" y="930">BOOT0</text><text x="2746" y="1050">PF0</text><text x="2746" y="1070">PF1</text><text x="2746" y="1110">PB1</text>
<text x="2524" y="1111">C19</text><text x="2524" y="1130">22</text><text x="2634" y="1111">C20</text><text x="2634" y="1130">22</text><text x="2638" y="1051">Y1</text><text x="2638" y="1070">8M</text><text x="2995" y="1111">C29</text><text x="2995" y="1130">104</text></g>
<g class="te"><text x="2895" y="890">PA0</text><text x="2895" y="910">PA1</text><text x="2895" y="930">PA2</text><text x="2895" y="950">PA3</text><text x="2895" y="970">PA4</text><text x="2895" y="990">PA5</text><text x="2895" y="1010">PA6</text><text x="2895" y="1030">PA7</text><text x="2895" y="1050">PA9</text><text x="2895" y="1070">PA10</text><text x="2895" y="1090">PA13</text><text x="2895" y="1110">PA14</text></g>
<g class="t">
<text transform="rotate(-90 2820 889)" x="2820" y="889">VDD</text><text transform="rotate(-90 2840 893)" x="2840" y="893">VDDA</text><text transform="rotate(-90 2820 1112)" x="2820" y="1112">VSS</text>
<text x="2680" y="840">C24</text><text x="2680" y="857">104</text><text x="2680" y="939">R46</text><text x="2680" y="957">10K</text><text x="2821" y="1167">U16</text><text x="2821" y="1186">STM32F030F4P6</text>
<text x="2612" y="975">GND</text><text x="2562" y="1185">GND</text><text x="2722" y="1185">GND</text><text x="3122" y="1145">GND</text><text x="3032" y="1355">GND</text>
<text x="3071" y="944">SW1</text><text x="3071" y="962">SW_Push</text><text x="3071" y="1034">SW2</text><text x="3071" y="1052">SW_Push</text>
</g>
<g class="n">
<text x="2731" y="883">4</text><text x="2731" y="923">1</text><text x="2731" y="1043">2</text><text x="2731" y="1063">3</text><text x="2730" y="1103">14</text>
<text x="2911" y="883">6</text><text x="2911" y="903">7</text><text x="2911" y="923">8</text><text x="2911" y="943">9</text><text x="2911" y="963">10</text><text x="2911" y="983">11</text><text x="2911" y="1003">12</text><text x="2911" y="1023">13</text><text x="2911" y="1043">17</text><text x="2911" y="1063">18</text><text x="2911" y="1083">19</text><text x="2911" y="1103">20</text>
<text transform="rotate(-90 2813 860)" x="2813" y="860">16</text><text transform="rotate(-90 2833 860)" x="2833" y="860">5</text><text transform="rotate(-90 2813 1140)" x="2813" y="1140">15</text>
</g>

<!-- text: mcu_DDS -->
<g class="ts"><text x="2856" y="1560">NRST</text><text x="2856" y="1600">BOOT0</text><text x="2856" y="1720">PF0</text><text x="2856" y="1740">PF1</text><text x="2856" y="1780">PB1</text>
<text x="2654" y="1781">C21</text><text x="2654" y="1800">15</text><text x="2734" y="1781">C25</text><text x="2734" y="1800">15</text><text x="2738" y="1721">Y2</text><text x="2738" y="1739">8M</text><text x="3104" y="1691">C30</text><text x="3104" y="1710">104</text></g>
<g class="te"><text x="3005" y="1560">PA0</text><text x="3005" y="1580">PA1</text><text x="3005" y="1600">PA2</text><text x="3005" y="1620">PA3</text><text x="3005" y="1640">PA4</text><text x="3005" y="1660">PA5</text><text x="3005" y="1680">PA6</text><text x="3005" y="1700">PA7</text><text x="3005" y="1720">PA9</text><text x="3005" y="1740">PA10</text><text x="3005" y="1760">PA13</text><text x="3005" y="1780">PA14</text></g>
<g class="t">
<text transform="rotate(-90 2930 1560)" x="2930" y="1560">VDD</text><text transform="rotate(-90 2950 1563)" x="2950" y="1563">VDDA</text><text transform="rotate(-90 2930 1782)" x="2930" y="1782">VSS</text>
<text x="2790" y="1510">C26</text><text x="2790" y="1528">104</text><text x="2790" y="1609">R47</text><text x="2790" y="1627">10K</text><text x="2930" y="1838">U17</text><text x="2930" y="1857">STM32F030F4P6</text>
<text x="2722" y="1645">GND</text><text x="2672" y="1855">GND</text><text x="2832" y="1855">GND</text><text x="3082" y="1875">GND</text>
</g>
<g class="n">
<text x="2841" y="1553">4</text><text x="2841" y="1593">1</text><text x="2841" y="1713">2</text><text x="2841" y="1733">3</text><text x="2840" y="1773">14</text>
<text x="3021" y="1553">6</text><text x="3021" y="1573">7</text><text x="3021" y="1593">8</text><text x="3021" y="1613">9</text><text x="3021" y="1633">10</text><text x="3021" y="1653">11</text><text x="3021" y="1673">12</text><text x="3021" y="1693">13</text><text x="3021" y="1713">17</text><text x="3021" y="1733">18</text><text x="3021" y="1753">19</text><text x="3021" y="1773">20</text>
<text transform="rotate(-90 2923 1530)" x="2923" y="1530">16</text><text transform="rotate(-90 2943 1530)" x="2943" y="1530">5</text><text transform="rotate(-90 2923 1810)" x="2923" y="1810">15</text>
</g>

<!-- text: analog left -->
<g class="t">
<text transform="rotate(-90 212 1184)" x="212" y="1184">J1A</text><text transform="rotate(-90 229 1184)" x="229" y="1184">RX</text>
<text x="275" y="1293">J2</text><text x="275" y="1311">TX</text>
<text x="261" y="1245">GND</text><text x="261" y="1415">GND</text><text x="491" y="1365">GND</text><text x="351" y="1545">GND</text><text x="741" y="1285">GND</text><text x="891" y="1315">GND</text><text x="1031" y="1305">GND</text><text x="1138" y="1141">GND</text><text x="1411" y="1145">GND</text><text x="1490" y="1114">GND</text><text x="1662" y="1495">GND</text><text x="2202" y="1365">GND</text><text x="1852" y="1525">GND</text><text x="2192" y="1564">GND</text>
<text x="830" y="1128">R20</text><text x="830" y="1146">1K</text><text x="980" y="1100">C5</text><text x="980" y="1118">104</text><text x="980" y="1190">C6</text><text x="980" y="1208">104</text>
<text x="1210" y="1088">C9</text><text x="1210" y="1107">104</text><text x="1150" y="1165">U5</text><text x="1150" y="1184">ne602</text><text x="1380" y="1069">R25</text><text x="1380" y="1087">100</text>
<text x="1340" y="1220">C11</text><text x="1340" y="1238">104</text><text x="1411" y="1229">R26</text><text x="1411" y="1247">20K</text><text x="1350" y="1339">C12</text><text x="1350" y="1358">104</text><text x="1421" y="1349">R27</text><text x="1421" y="1367">20K</text><text x="1550" y="1349">R31</text><text x="1550" y="1367">20K</text><text x="1740" y="1349">R36</text><text x="1740" y="1367">10K</text>
<text x="1560" y="1216">U11C</text><text x="1560" y="1235">TL084</text><text x="1720" y="1237">U11B</text><text x="1720" y="1255">TL084</text><text x="1921" y="1176">U11D</text><text x="1921" y="1195">TL084</text><text x="1930" y="1505">TL084</text><text x="1930" y="1523">U11A</text>
<text x="2140" y="1218">R42</text><text x="2140" y="1237">500</text><text x="2140" y="1418">R43</text><text x="2140" y="1437">500</text>
<text transform="rotate(-90 1720 1043)" x="1720" y="1043">V+</text><text transform="rotate(-90 1720 1079)" x="1720" y="1079">V-</text>
</g>
<g class="ts">
<text x="506" y="1121">R5</text><text x="506" y="1139">100</text><text x="456" y="1181">R3</text><text x="456" y="1199">50</text><text x="546" y="1181">R6</text><text x="546" y="1199">50</text><text x="456" y="1291">R4</text><text x="456" y="1310">50</text><text x="546" y="1291">R13</text><text x="546" y="1310">50</text>
<text x="366" y="1391">R1</text><text x="366" y="1410">1K</text><text x="366" y="1471">R2</text><text x="366" y="1489">100</text>
<text x="755" y="1111">R18</text><text x="755" y="1129">150</text><text x="755" y="1210">R19</text><text x="755" y="1229">50</text><text x="905" y="1191">R21</text><text x="905" y="1210">100</text>
<text x="1326" y="1051">R24</text><text x="1326" y="1070">1K</text><text x="1334" y="1151">C10</text><text x="1334" y="1169">104</text>
<text x="1506" y="1170">R29</text><text x="1506" y="1189">20K</text><text x="1676" y="1420">R34</text><text x="1676" y="1440">1K</text><text x="2025" y="1311">R38</text><text x="2025" y="1329">20K</text><text x="2025" y="1391">R39</text><text x="2025" y="1409">20K</text>
<text x="2224" y="1291">C14</text><text x="2224" y="1309">104</text><text x="2214" y="1491">C13</text><text x="2214" y="1509">104</text>
<text x="1733" y="1050">U11E</text><text x="1733" y="1069">TL084</text>
<text x="1103" y="1210">IN_A</text><text x="1103" y="1230">IN_B</text><text x="1103" y="1250">GND</text><text x="1102" y="1270">OUT_A</text><text x="1152" y="1230">OSC_E</text><text x="1152" y="1250">OSC_B</text><text x="1152" y="1270">OUT_B</text>
</g>
<g class="te"><text x="1197" y="1210">VCC</text></g>
<g class="n">
<text x="290" y="1163">1</text><text transform="rotate(-90 253 1200)" x="253" y="1200">2</text><text x="290" y="1333">1</text><text transform="rotate(-90 253 1370)" x="253" y="1370">2</text>
<text x="1080" y="1203">1</text><text x="1080" y="1223">2</text><text x="1080" y="1243">3</text><text x="1080" y="1263">4</text><text x="1220" y="1203">8</text><text x="1220" y="1223">7</text><text x="1220" y="1243">6</text><text x="1220" y="1263">5</text>
<text x="1510" y="1263">10</text><text x="1511" y="1303">9</text><text x="1611" y="1283">8</text><text x="1671" y="1283">5</text><text x="1671" y="1323">6</text><text x="1771" y="1302">7</text><text x="1871" y="1223">12</text><text x="1871" y="1263">13</text><text x="1971" y="1243">14</text><text x="1881" y="1423">2</text><text x="1881" y="1463">3</text><text x="1981" y="1443">1</text>
<text transform="rotate(-90 1712 1015)" x="1712" y="1015">4</text><text transform="rotate(-90 1712 1105)" x="1712" y="1105">11</text>
</g>
<g class="t"><text x="1528" y="1271">+</text><text x="1528" y="1311">-</text><text x="1688" y="1290">+</text><text x="1688" y="1330">-</text><text x="1888" y="1230">+</text><text x="1888" y="1271">-</text><text x="1898" y="1431">-</text><text x="1898" y="1470">+</text>
<text x="1598" y="1900">+</text><text x="1598" y="1941">-</text><text x="1758" y="1921">+</text><text x="1758" y="1961">-</text><text x="1958" y="1861">+</text><text x="1958" y="1901">-</text><text x="1968" y="2061">-</text><text x="1968" y="2101">+</text></g>

<!-- text: U3 region -->
<g class="t">
<text x="530" y="1539">R14</text><text x="530" y="1557">1K</text><text x="599" y="1465">GND</text><text x="700" y="1530">C1</text><text x="700" y="1548">104</text><text x="540" y="1669">R15</text><text x="540" y="1687">1K</text><text x="700" y="1660">C2</text><text x="700" y="1678">104</text><text x="621" y="1845">GND</text><text x="801" y="1735">GND</text><text x="888" y="1581">GND</text><text x="960" y="1529">C4</text><text x="960" y="1547">104</text><text x="930" y="1606">U3</text><text x="930" y="1624">ne602</text><text x="1131" y="1509">R23</text><text x="1131" y="1527">100</text><text x="1161" y="1585">GND</text>
</g>
<g class="ts">
<text x="615" y="1531">R16</text><text x="615" y="1550">100</text><text x="635" y="1771">R17</text><text x="635" y="1790">100</text><text x="1076" y="1491">R22</text><text x="1076" y="1510">1K</text><text x="1084" y="1591">C8</text><text x="1084" y="1609">104</text><text x="864" y="1761">C3</text><text x="864" y="1779">104</text><text x="1045" y="1761">C7</text><text x="1045" y="1779">104</text>
<text x="883" y="1650">IN_A</text><text x="883" y="1670">IN_B</text><text x="883" y="1690">GND</text><text x="882" y="1710">OUT_A</text><text x="932" y="1670">OSC_E</text><text x="932" y="1690">OSC_B</text><text x="932" y="1710">OUT_B</text>
</g>
<g class="te"><text x="977" y="1650">VCC</text></g>
<g class="n"><text x="860" y="1643">1</text><text x="860" y="1663">2</text><text x="860" y="1683">3</text><text x="860" y="1703">4</text><text x="1000" y="1643">8</text><text x="1000" y="1663">7</text><text x="1000" y="1683">6</text><text x="1000" y="1703">5</text></g>

<!-- text: U6 region -->
<g class="ts">
<text x="1185" y="1860">Y3</text><text x="1185" y="1880">Y2</text><text x="1185" y="1900">Y1</text><text x="1185" y="1920">Y0</text><text x="1185" y="1960">X3</text><text x="1185" y="1980">X2</text><text x="1185" y="2000">X1</text><text x="1185" y="2020">X0</text>
<text x="1576" y="1800">R32</text><text x="1576" y="1819">20K</text><text x="1746" y="2051">R35</text><text x="1746" y="2070">1K</text><text x="2097" y="1941">R40</text><text x="2097" y="1959">20K</text><text x="2097" y="2021">R41</text><text x="2097" y="2040">20K</text><text x="2294" y="1911">C16</text><text x="2294" y="1929">104</text><text x="2284" y="2111">C15</text><text x="2284" y="2129">104</text>
<text x="1763" y="1690">U12E</text><text x="1763" y="1709">TL084</text>
</g>
<g class="te"><text x="1335" y="1880">INH</text><text x="1335" y="1900">Y</text><text x="1335" y="2000">X</text><text x="1335" y="2040">B</text><text x="1335" y="2060">A</text></g>
<g class="t">
<text transform="rotate(-90 1260 1858)" x="1260" y="1858">VSS</text><text transform="rotate(-90 1280 1858)" x="1280" y="1858">VEE</text><text transform="rotate(-90 1240 2061)" x="1240" y="2061">VDD</text>
<text x="1260" y="2118">CD4052B</text><text x="1260" y="2136">U6</text><text x="1421" y="1845">GND</text><text x="1371" y="2165">GND</text><text x="1559" y="1745">GND</text><text x="1731" y="2125">GND</text><text x="2272" y="1985">GND</text><text x="1921" y="2155">GND</text><text x="2262" y="2185">GND</text>
<text x="1480" y="1858">R28</text><text x="1480" y="1877">20K</text><text x="1491" y="1979">R30</text><text x="1491" y="1997">20K</text><text x="1621" y="1979">R33</text><text x="1621" y="1997">20K</text><text x="1811" y="1979">R37</text><text x="1811" y="1997">10K</text>
<text x="1630" y="1847">U12C</text><text x="1630" y="1865">TL084</text><text x="1790" y="1867">U12B</text><text x="1790" y="1885">TL084</text><text x="2001" y="1807">U12D</text><text x="2001" y="1825">TL084</text><text x="2001" y="2135">TL084</text><text x="2001" y="2153">U12A</text>
<text x="2211" y="1838">R44</text><text x="2211" y="1857">500</text><text x="2211" y="2039">R45</text><text x="2211" y="2057">500</text>
<text transform="rotate(-90 1750 1683)" x="1750" y="1683">V+</text><text transform="rotate(-90 1750 1719)" x="1750" y="1719">V-</text>
</g>
<g class="n">
<text x="1170" y="1853">4</text><text x="1170" y="1873">2</text><text x="1170" y="1893">5</text><text x="1170" y="1913">1</text><text x="1170" y="1953">11</text><text x="1170" y="1973">15</text><text x="1170" y="1993">14</text><text x="1170" y="2013">12</text>
<text x="1351" y="1873">6</text><text x="1351" y="1893">3</text><text x="1351" y="1993">13</text><text x="1351" y="2033">9</text><text x="1351" y="2053">10</text>
<text transform="rotate(-90 1253 1830)" x="1253" y="1830">8</text><text transform="rotate(-90 1273 1830)" x="1273" y="1830">7</text><text transform="rotate(-90 1232 2086)" x="1232" y="2086">16</text>
<text x="1580" y="1893">10</text><text x="1580" y="1933">9</text><text x="1681" y="1913">8</text><text x="1740" y="1913">5</text><text x="1740" y="1953">6</text><text x="1840" y="1933">7</text><text x="1941" y="1853">12</text><text x="1941" y="1893">13</text><text x="2040" y="1873">14</text><text x="1950" y="2053">2</text><text x="1950" y="2093">3</text><text x="2051" y="2073">1</text>
<text transform="rotate(-90 1744 1655)" x="1744" y="1655">4</text><text transform="rotate(-90 1744 1745)" x="1744" y="1745">11</text>
</g>
</svg>
</body></html>
